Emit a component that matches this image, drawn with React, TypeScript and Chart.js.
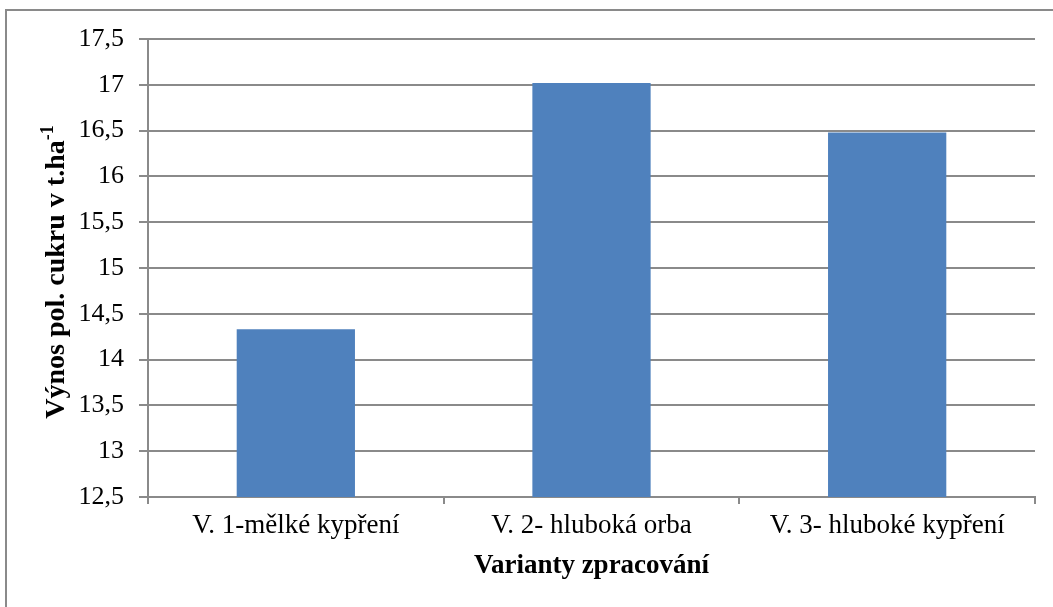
import React, { useEffect, useRef } from "react";
import { Chart, registerables } from "chart.js";

Chart.register(...registerables);

const categories = ["V. 1-mělké kypření", "V. 2- hluboká orba", "V. 3- hluboké kypření"];
const yieldValues = [14.33, 17.02, 16.48];
const yMin = 12.5;
const yMax = 17.5;
const yStep = 0.5;
const xTitle = "Varianty zpracování";
const yTitleMain = "Výnos pol. cukru v t.ha";
const yTitleSup = "-1";

const GRID = "#8a8a8a";
const SERIF = "'Liberation Serif', 'Times New Roman', serif";

const framePlugin = {
  id: "frame",
  beforeDraw(chart: any) {
    const ctx = chart.ctx;
    ctx.save();
    ctx.strokeStyle = GRID;
    ctx.lineWidth = 2;
    ctx.beginPath();
    ctx.moveTo(6, chart.height + 5);
    ctx.lineTo(6, 10);
    ctx.lineTo(chart.width + 5, 10);
    ctx.stroke();
    ctx.restore();
  },
  afterDraw(chart: any) {
    const ctx = chart.ctx;
    ctx.save();
    ctx.fillStyle = "#000";
    const mainFont = `bold 28px ${SERIF}`;
    const supFont = `bold 18px ${SERIF}`;
    ctx.font = mainFont;
    const w1 = ctx.measureText(yTitleMain).width;
    ctx.font = supFont;
    const w2 = ctx.measureText(yTitleSup).width;
    const total = w1 + w2;
    ctx.translate(54, 272);
    ctx.rotate(-Math.PI / 2);
    ctx.textBaseline = "alphabetic";
    ctx.textAlign = "left";
    ctx.font = mainFont;
    ctx.fillText(yTitleMain, -total / 2, 10);
    ctx.font = supFont;
    ctx.fillText(yTitleSup, -total / 2 + w1, -1);
    ctx.restore();
  },
};

export default function App() {
  const ref = useRef<HTMLCanvasElement | null>(null);
  useEffect(() => {
    if (!ref.current) return;
    const chart = new Chart(ref.current, {
      type: "bar",
      data: {
        labels: categories,
        datasets: [
          {
            data: yieldValues,
            backgroundColor: "#4f81bd",
            borderWidth: 0,
            categoryPercentage: 0.8,
            barPercentage: 0.5,
          },
        ],
      },
      options: {
        responsive: false,
        animation: false,
        layout: { padding: { top: 39, right: 18, left: 0, bottom: 0 } },
        plugins: {
          legend: { display: false },
          tooltip: { enabled: false },
        },
        scales: {
          x: {
            afterFit: (s: any) => {
              s.height = 110;
            },
            grid: {
              display: true,
              drawOnChartArea: false,
              drawTicks: true,
              tickLength: 7,
              color: GRID,
              lineWidth: 2,
              offset: true,
            },
            border: { display: true, color: GRID, width: 2 },
            ticks: {
              color: "#000",
              font: { family: SERIF, size: 27 },
              padding: 6,
              maxRotation: 0,
              autoSkip: false,
            },
            title: {
              display: true,
              text: xTitle,
              color: "#000",
              font: { family: SERIF, size: 27, weight: "bold" },
              padding: { top: 0, bottom: 25 },
            },
          },
          y: {
            min: yMin,
            max: yMax,
            afterFit: (s: any) => {
              s.width = 148;
            },
            grid: {
              color: GRID,
              lineWidth: 2,
              tickLength: 9,
              drawTicks: true,
            },
            border: { display: true, color: GRID, width: 2 },
            ticks: {
              stepSize: yStep,
              color: "#000",
              font: { family: SERIF, size: 26 },
              padding: 15,
              callback: (v: any) => String(Number(v)).replace(".", ","),
            },
          },
        },
      },
      plugins: [framePlugin],
    });
    return () => chart.destroy();
  }, []);
  return (
    <div style={{ position: "absolute", left: 0, top: 0, width: 1053, height: 607, background: "#fff" }}>
      <canvas ref={ref} width={1053} height={607} />
    </div>
  );
}
